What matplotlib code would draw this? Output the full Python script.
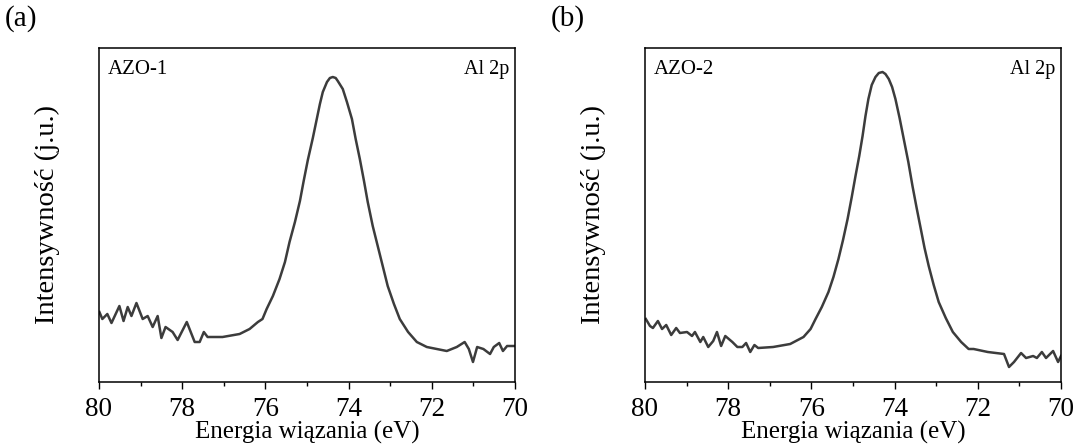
import numpy as np
import matplotlib
matplotlib.use('Agg')
import matplotlib.pyplot as plt
from matplotlib.ticker import MultipleLocator

plt.rcParams['font.family'] = ['Liberation Serif', 'DejaVu Serif']

# AZO-1, Al 2p (binding energy in eV, intensity in arbitrary units)
a_ev = [79.99, 79.92, 79.80, 79.70, 79.51, 79.41, 79.31, 79.22, 79.10, 78.95,
        78.83, 78.71, 78.59, 78.50, 78.40, 78.23, 78.11, 77.89, 77.70, 77.58,
        77.48, 77.39, 77.03, 76.62, 76.38, 76.18, 76.07, 75.97, 75.82, 75.66,
        75.53, 75.42, 75.29, 75.17, 75.08, 74.98, 74.86, 74.77, 74.69, 74.62,
        74.52, 74.45, 74.38, 74.31, 74.26, 74.14, 74.04, 73.92, 73.83, 73.73,
        73.63, 73.54, 73.42, 73.30, 73.18, 73.06, 72.91, 72.77, 72.57, 72.36,
        72.12, 72.00, 71.64, 71.40, 71.21, 71.11, 71.01, 70.91, 70.76, 70.60,
        70.51, 70.38, 70.29, 70.19, 70.00]
a_int = [70, 63, 68, 59, 76, 61, 75, 66, 79, 63,
         66, 55, 66, 44, 55, 50, 42, 60, 40, 40,
         50, 45, 45, 48, 53, 60, 63, 73, 86, 103,
         120, 140, 160, 181, 201, 222, 244, 262, 278, 290,
         300, 304, 305, 304, 301, 293, 280, 263, 243, 223,
         201, 180, 156, 136, 116, 96, 78, 63, 50, 40,
         35, 34, 31, 35, 40, 33, 20, 35, 33, 28,
         35, 39, 31, 36, 36]

# AZO-2, Al 2p
b_ev = [79.98, 79.88, 79.81, 79.69, 79.59, 79.49, 79.37, 79.25, 79.16, 78.99,
        78.87, 78.80, 78.67, 78.60, 78.48, 78.36, 78.27, 78.17, 78.07, 77.90,
        77.78, 77.66, 77.57, 77.47, 77.37, 77.28, 76.92, 76.51, 76.19, 76.02,
        75.90, 75.75, 75.59, 75.47, 75.35, 75.24, 75.13, 75.03, 74.94, 74.85,
        74.77, 74.70, 74.63, 74.55, 74.46, 74.38, 74.29, 74.22, 74.14, 74.06,
        73.98, 73.88, 73.78, 73.67, 73.57, 73.47, 73.37, 73.28, 73.18, 73.06,
        72.94, 72.77, 72.60, 72.40, 72.22, 72.10, 71.76, 71.37, 71.25, 71.13,
        70.96, 70.84, 70.67, 70.58, 70.46, 70.36, 70.19, 70.07, 70.00]
b_int = [63, 56, 54, 61, 53, 57, 47, 54, 49, 50,
         46, 50, 40, 45, 35, 41, 50, 36, 46, 40,
         35, 35, 39, 30, 37, 34, 35, 38, 45, 53,
         63, 75, 90, 105, 123, 142, 163, 185, 206, 226,
         246, 266, 283, 297, 305, 309, 310, 308, 303, 295,
         283, 264, 243, 220, 196, 174, 153, 134, 116, 97,
         80, 64, 50, 40, 33, 33, 30, 28, 15, 20,
         29, 24, 26, 24, 30, 24, 31, 20, 26]

panels = [
    ('(a)', 'AZO-1', a_ev, a_int, 99),
    ('(b)', 'AZO-2', b_ev, b_int, 645),
]

W, H = 1078, 448
fig = plt.figure(figsize=(W / 100, H / 100), dpi=100)

for tag, name, ev, inten, left in panels:
    ax = fig.add_axes([left / W, 66 / H, 416 / W, 334 / H])
    ax.plot(ev, inten, color='#3c3c3c', lw=1.8, solid_joinstyle='round')
    ax.set_xlim(80, 70)
    ax.set_ylim(0, 334)
    ax.xaxis.set_major_locator(MultipleLocator(2))
    ax.xaxis.set_minor_locator(MultipleLocator(1))
    ax.set_yticks([])
    ax.tick_params(axis='x', which='major', direction='out', length=5,
                   width=1, labelsize=19.5, pad=6)
    ax.tick_params(axis='x', which='minor', direction='out', length=3, width=1)
    for s in ax.spines.values():
        s.set_linewidth(1.1)
    ax.set_xlabel('Energia wiązania (eV)', fontsize=18, labelpad=-1)
    ax.set_ylabel('Intensywność (j.u.)', fontsize=20.5, labelpad=28)
    ax.text(0.02, 0.965, name, transform=ax.transAxes, ha='left', va='top',
            fontsize=15)
    ax.text(0.985, 0.965, 'Al 2p', transform=ax.transAxes, ha='right',
            va='top', fontsize=14.5)
    fig.text((left - 94) / W, 1 - 19 / H, tag, ha='left', va='center',
             fontsize=21)

fig.savefig('out.png', dpi=100)
